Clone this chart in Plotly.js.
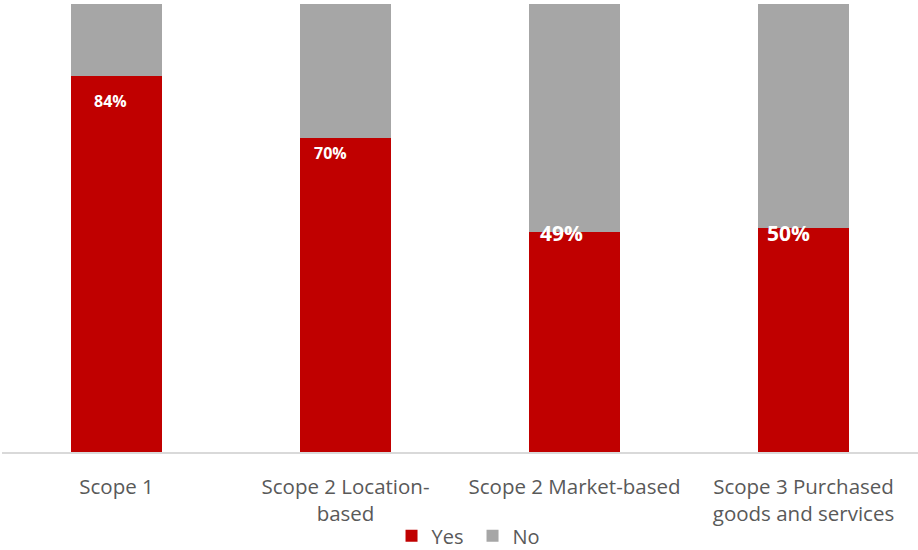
<!DOCTYPE html>
<html>
<head>
<meta charset="utf-8">
<script src="https://cdn.plot.ly/plotly-3.0.1.min.js"></script>
<style>html,body{margin:0;padding:0;background:#fff;}#chart{width:918px;height:550px;}</style>
</head>
<body>
<div id="chart"></div>
<script>
const categories = ["Scope 1", "Scope 2 Location-<br>based", "Scope 2 Market-based", "Scope 3 Purchased<br>goods and services"];
const yesValues = [84, 70, 49, 50];
const noValues = [16, 30, 51, 50];
const yesLabels = ["84%", "70%", "49%", "50%"];

const labelStyle = [
  {size: 16, xshift: -6, yshift: -25},
  {size: 16, xshift: -15, yshift: -15},
  {size: 21, xshift: -13, yshift: -1},
  {size: 21, xshift: -15, yshift: -5}
];

const traces = [
  {type: 'bar', name: 'Yes', x: categories, y: yesValues, marker: {color: '#C00000'}, hoverinfo: 'none'},
  {type: 'bar', name: 'No', x: categories, y: noValues, marker: {color: '#A6A6A6'}, hoverinfo: 'none'}
];

const annotations = categories.map((c, i) => ({
  x: c, y: yesValues[i], xref: 'x', yref: 'y',
  text: '<b>' + yesLabels[i] + '</b>', showarrow: false,
  xanchor: 'center', yanchor: 'middle',
  xshift: labelStyle[i].xshift, yshift: labelStyle[i].yshift,
  font: {family: 'Open Sans, sans-serif', size: labelStyle[i].size, color: '#ffffff'}
}));

const layout = {
  width: 918, height: 550,
  barmode: 'stack', bargap: 0.6,
  margin: {l: 2, r: 0, t: 4, b: 98, autoexpand: false},
  paper_bgcolor: '#ffffff', plot_bgcolor: '#ffffff',
  showlegend: true,
  legend: {orientation: 'h', xref: 'container', yref: 'container', x: 0.4265, xanchor: 'left', y: 0.026, yanchor: 'middle', entrywidth: 36,
           font: {family: 'Open Sans, sans-serif', size: 20, color: '#595959'}, traceorder: 'normal'},
  xaxis: {showline: true, linecolor: '#D9D9D9', linewidth: 1.5, ticks: '', showgrid: false, ticklabelstandoff: 16,
          tickfont: {family: 'Open Sans, sans-serif', size: 20.5, color: '#595959'}, range: [-0.5, 3.5]},
  yaxis: {range: [0, 100], showticklabels: false, showgrid: false, zeroline: false, showline: false, ticks: ''},
  annotations: annotations,
  font: {family: 'Open Sans, sans-serif'}
};

Plotly.newPlot('chart', traces, layout, {displayModeBar: false, staticPlot: true});
</script>
</body>
</html>
